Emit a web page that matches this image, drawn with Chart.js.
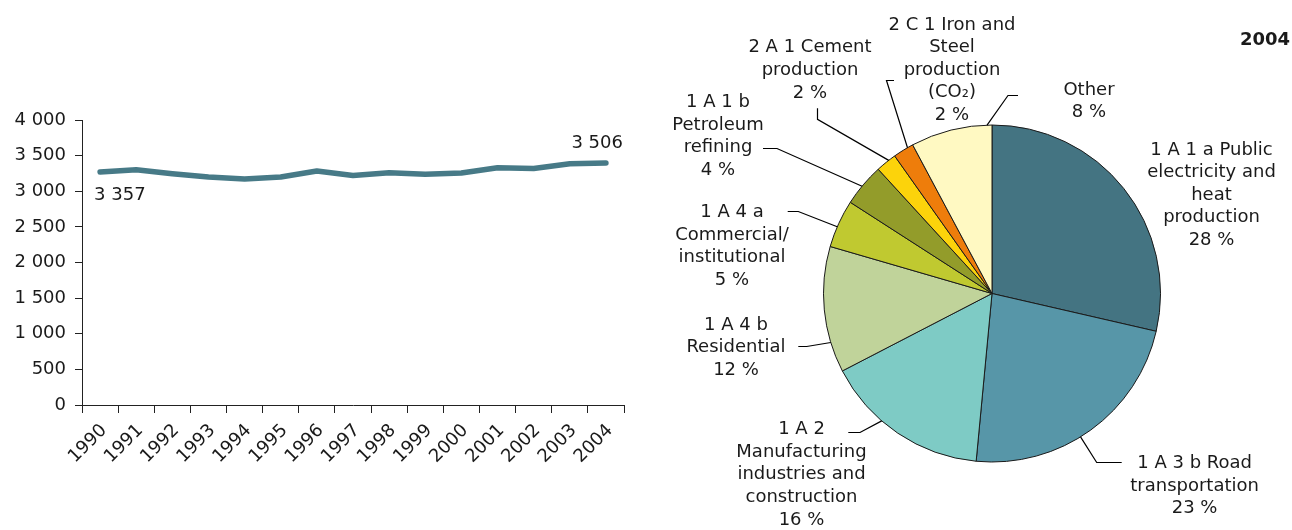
<!DOCTYPE html>
<html><head><meta charset="utf-8">
<script src="https://cdn.jsdelivr.net/npm/chart.js@4/dist/chart.umd.min.js"></script>
<style>
html,body{margin:0;padding:0;background:#fff;width:1292px;height:530px;overflow:hidden}
#lineWrap{position:absolute;left:0;top:0;width:640px;height:530px}
#pieWrap{position:absolute;left:640px;top:0;width:652px;height:530px}
</style></head>
<body>
<div id="lineWrap"><canvas id="line" width="640" height="530"></canvas></div>
<div id="pieWrap"><canvas id="pie" width="652" height="530"></canvas></div>
<script>
// ---- line chart data ----
const years = ["1990","1991","1992","1993","1994","1995","1996","1997","1998","1999","2000","2001","2002","2003","2004"];
const emissions = [3269, 3302, 3246, 3199, 3171, 3199, 3283, 3222, 3260, 3240, 3255, 3330, 3320, 3386, 3395];
const firstLabel = "3 357";
const lastLabel = "3 506";
const yMin = 0, yMax = 4000, yStep = 500;

// ---- pie chart data ----
const sectorLines = [
  ["1 A 1 a Public","electricity and","heat","production"],
  ["1 A 3 b Road","transportation"],
  ["1 A 2","Manufacturing","industries and","construction"],
  ["1 A 4 b","Residential"],
  ["1 A 4 a","Commercial/","institutional"],
  ["1 A 1 b","Petroleum","refining"],
  ["2 A 1 Cement","production"],
  ["2 C 1 Iron and","Steel","production","(CO\u2082)"],
  ["Other"]
];
const sectorShares = [28.6, 22.9, 15.9, 12.1, 4.6, 4.1, 2.0, 2.0, 7.8];
const shareLabels = ["28 %","23 %","16 %","12 %","5 %","4 %","2 %","2 %","8 %"];
const sectorColors = ["#447482","#5796a8","#7ecbc5","#c0d39a","#c0c930","#939c2a","#fcd30b","#ee7d0b","#fff9c2"];
const pieYear = "2004";

// ---- layout (text placement & leader lines, canvas px) ----
const labelPos = [
  [571.5,150],[554.6,463.3],[161.5,429.5],[96,325],[92,212.5],[78,102.3],[170,47.7],[312,25],[449,90]
];
const leaders = [
  null,
  {frac:0.55, pts:[[456.7,462.5],[481.7,462.5]]},
  {frac:0.62, pts:[[220,432.5],[208.3,432.5]]},
  {frac:0.24, pts:[[166.7,346.5],[158.3,346.5]]},
  {frac:0.43, pts:[[158.3,211.5],[147.7,211.5]]},
  {frac:0.46, pts:[[137,148.5],[123,148.5]]},
  {frac:0.65, pts:[[177.5,119.3],[177.5,108.3]]},
  {frac:0.72, pts:[[246.5,80.5],[254,80.5]]},
  {frac:0.94, pts:[[368,95.5],[378,95.5]]}
];

const FONT = '"DejaVu Sans", Verdana, sans-serif';
const TXT = '#1a1a1a';
const fmt = v => String(v).replace(/\B(?=(\d{3})+(?!\d))/g, ' ');

const endLabelPlugin = {
  id:'endLabels',
  afterDatasetsDraw(chart){
    const pts = chart.getDatasetMeta(0).data;
    const ctx = chart.ctx;
    ctx.save();
    ctx.font = '18px ' + FONT; ctx.fillStyle = TXT; ctx.textBaseline = 'middle';
    ctx.textAlign = 'left';
    ctx.fillText(firstLabel, pts[0].x - 6, pts[0].y + 23);
    ctx.textAlign = 'right';
    const p = pts[pts.length-1];
    ctx.fillText(lastLabel, p.x + 17, p.y - 20);
    ctx.restore();
  }
};

new Chart(document.getElementById('line'), {
  type:'line',
  data:{labels:years, datasets:[{data:emissions, borderColor:'#477a87', borderWidth:5.5, pointRadius:0, tension:0,
    borderCapStyle:'round', borderJoinStyle:'round', fill:false}]},
  options:{
    responsive:false, animation:false, events:[], devicePixelRatio:1,
    layout:{padding:{left:0,right:16,top:120,bottom:0}},
    plugins:{legend:{display:false}, tooltip:{enabled:false}},
    scales:{
      x:{type:'category', offset:true,
        grid:{offset:true, drawOnChartArea:false, drawTicks:true, tickLength:8, color:'#222'},
        border:{color:'#222', width:1},
        ticks:{minRotation:45, maxRotation:45, autoSkip:false, padding:7, labelOffset:4, color:TXT, font:{family:FONT, size:18}},
        afterFit(s){ s.height = 125; }
      },
      y:{min:yMin, max:yMax,
        grid:{drawOnChartArea:false, drawTicks:true, tickLength:7, color:'#222'},
        border:{color:'#222', width:1},
        ticks:{stepSize:yStep, padding:9, color:TXT, font:{family:FONT, size:18}, callback:v=>fmt(v)},
        afterFit(s){ s.width = 82; }
      }
    }
  },
  plugins:[endLabelPlugin]
});

const pieLabelPlugin = {
  id:'pieLabels',
  afterDraw(chart){
    const ctx = chart.ctx;
    const meta = chart.getDatasetMeta(0);
    ctx.save();
    // leader lines
    ctx.strokeStyle = '#000'; ctx.lineWidth = 1.2;
    meta.data.forEach((el, i) => {
      const L = leaders[i]; if (!L) return;
      const a = el.startAngle + L.frac * (el.endAngle - el.startAngle);
      const r = el.outerRadius;
      ctx.beginPath();
      ctx.moveTo(el.x + r*Math.cos(a), el.y + r*Math.sin(a));
      L.pts.forEach(p => ctx.lineTo(p[0], p[1]));
      ctx.stroke();
    });
    // labels
    ctx.font = '18px ' + FONT; ctx.fillStyle = TXT; ctx.textAlign = 'center'; ctx.textBaseline = 'middle';
    const lh = 22.6;
    sectorLines.forEach((lines, i) => {
      const all = lines.concat([shareLabels[i]]);
      all.forEach((t, k) => ctx.fillText(t, labelPos[i][0], labelPos[i][1] + k*lh));
    });
    ctx.font = 'bold 18px ' + FONT; ctx.textAlign = 'right';
    ctx.fillText(pieYear, 650, 40);
    ctx.restore();
  }
};

new Chart(document.getElementById('pie'), {
  type:'pie',
  data:{labels:sectorLines.map(l=>l.join(' ')), datasets:[{data:sectorShares, backgroundColor:sectorColors, borderColor:'#1a1a1a', borderWidth:1}]},
  options:{
    responsive:false, animation:false, events:[], devicePixelRatio:1,
    layout:{padding:{left:183,right:131,top:124.5,bottom:67.5}},
    plugins:{legend:{display:false}, tooltip:{enabled:false}}
  },
  plugins:[pieLabelPlugin]
});
</script>
</body></html>
